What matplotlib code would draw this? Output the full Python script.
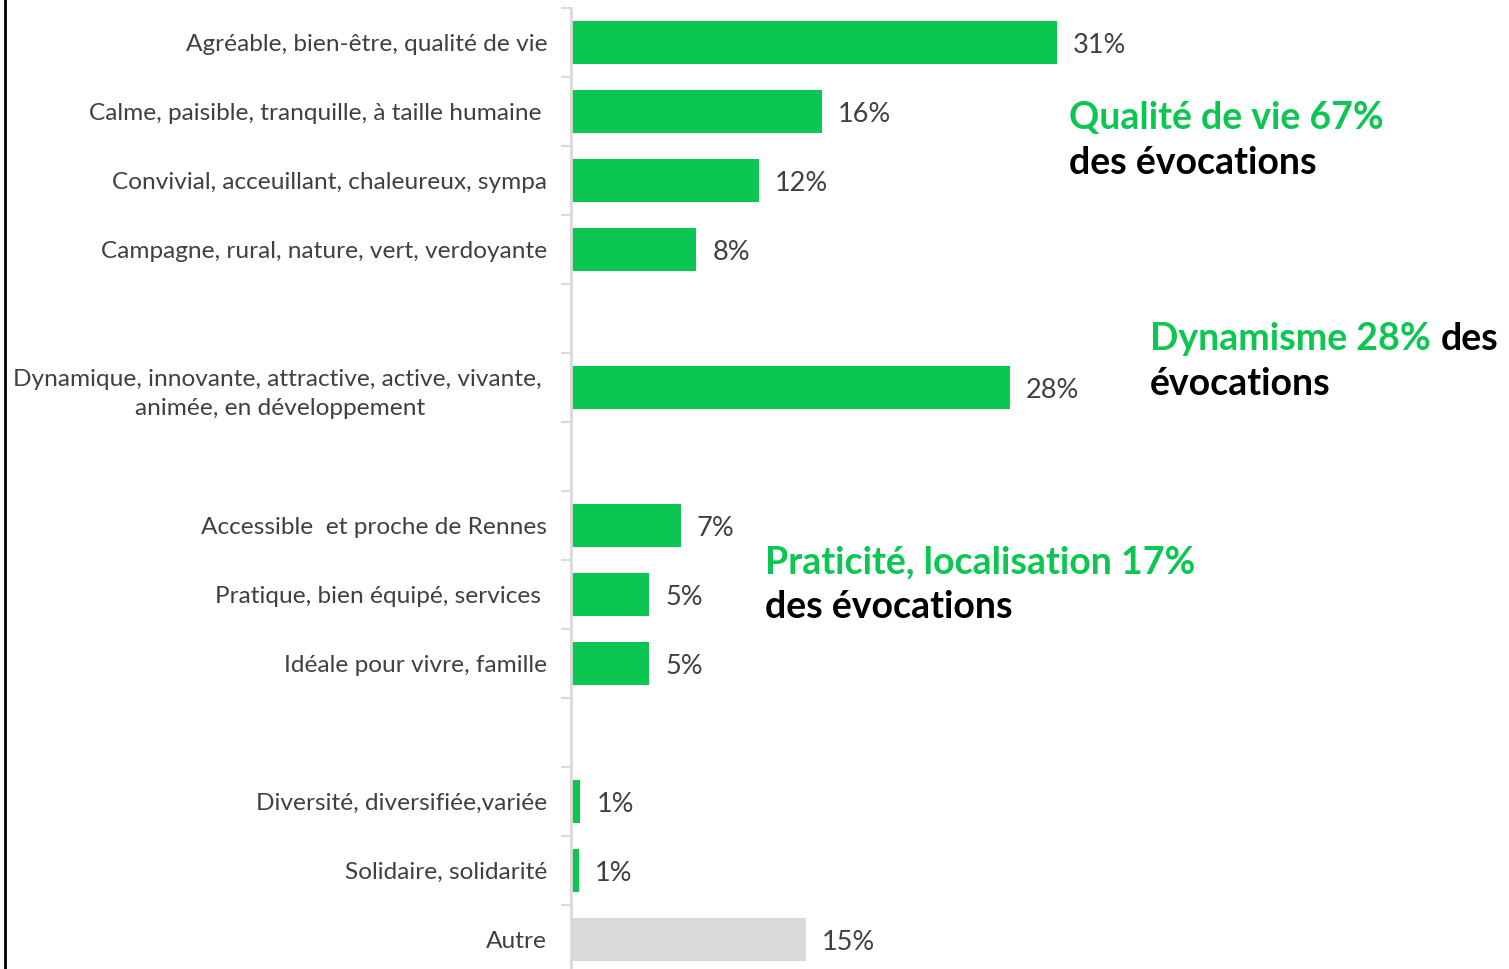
import matplotlib.pyplot as plt
import numpy as np
from matplotlib.lines import Line2D

# rows top to bottom, "" = empty spacer row
categories = [
    "Agréable, bien-être, qualité de vie",
    "Calme, paisible, tranquille, à taille humaine ",
    "Convivial, acceuillant, chaleureux, sympa",
    "Campagne, rural, nature, vert, verdoyante",
    "",
    "Dynamique, innovante, attractive, active, vivante, \nanimée, en développement",
    "",
    "Accessible  et proche de Rennes",
    "Pratique, bien équipé, services ",
    "Idéale pour vivre, famille",
    "",
    "Diversité, diversifiée,variée",
    "Solidaire, solidarité",
    "Autre",
]
values = [31, 16, 12, 8, None, 28, None, 7, 5, 5, None, 0.6, 0.5, 15]
labels = ["31%", "16%", "12%", "8%", "", "28%", "", "7%", "5%", "5%", "", "1%", "1%", "15%"]
is_other = [c == "Autre" for c in categories]

GREEN = "#0BC752"
GREY = "#D9D9D9"
TXT = "#404040"
FONT = "Lato"

fig = plt.figure(figsize=(15.09, 9.69), dpi=100)
ax = fig.add_axes([571 / 1509, (969 - 974) / 969, 1 - 571 / 1509, 966 / 969])

y = np.arange(len(categories))
for i, (v, lab) in enumerate(zip(values, labels)):
    if v is None:
        continue
    ax.barh(i, v, height=0.63, color=GREY if is_other[i] else GREEN)
    ax.annotate(lab, (v, i), xytext=(16, -3), textcoords="offset pixels",
                ha="left", va="center", fontsize=19.5, color=TXT, family=FONT)

ax.set_xlim(0, (1509 - 571) / 15.68)
ax.set_ylim(len(categories) - 0.5, -0.5)
ax.set_yticks(y)
ax.set_yticklabels(categories, fontsize=17.6, color=TXT, family=FONT, linespacing=1.5)
ax.set_yticks(np.arange(len(categories) + 1) - 0.5, minor=True)
ax.tick_params(axis="y", which="major", length=0, pad=17)
ax.tick_params(axis="y", which="minor", length=7, width=1.5, color=GREY)
for lbl in ax.get_yticklabels():
    lbl.set_horizontalalignment("right")
    lbl.set_multialignment("center")
ax.set_xticks([])
for s in ["top", "right", "bottom"]:
    ax.spines[s].set_visible(False)
ax.spines["left"].set_color(GREY)
ax.spines["left"].set_linewidth(2)

# group annotations
def group_note(x, y1, green, black_inline, black_line2):
    kw = dict(fontsize=27, fontweight="bold", family=FONT, va="center", ha="left")
    t = fig.text(x / 1509, 1 - y1 / 969, green, color=GREEN, **kw)
    if black_inline:
        fig.canvas.draw()
        bb = t.get_window_extent()
        fig.text((bb.x1 + 10) / 1509, 1 - y1 / 969, black_inline, color="black", **kw)
    fig.text(x / 1509, 1 - (y1 + 45) / 969, black_line2, color="black", **kw)

group_note(1069, 118, "Qualité de vie 67%", None, "des évocations")
group_note(1150, 339, "Dynamisme 28%", "des", "évocations")
group_note(765, 562, "Praticité, localisation 17%", None, "des évocations")

# slide frame edge on the left
fig.add_artist(Line2D([5 / 1509, 5 / 1509], [0, 1], color="black", lw=2))

fig.savefig("out.png", dpi=100)
